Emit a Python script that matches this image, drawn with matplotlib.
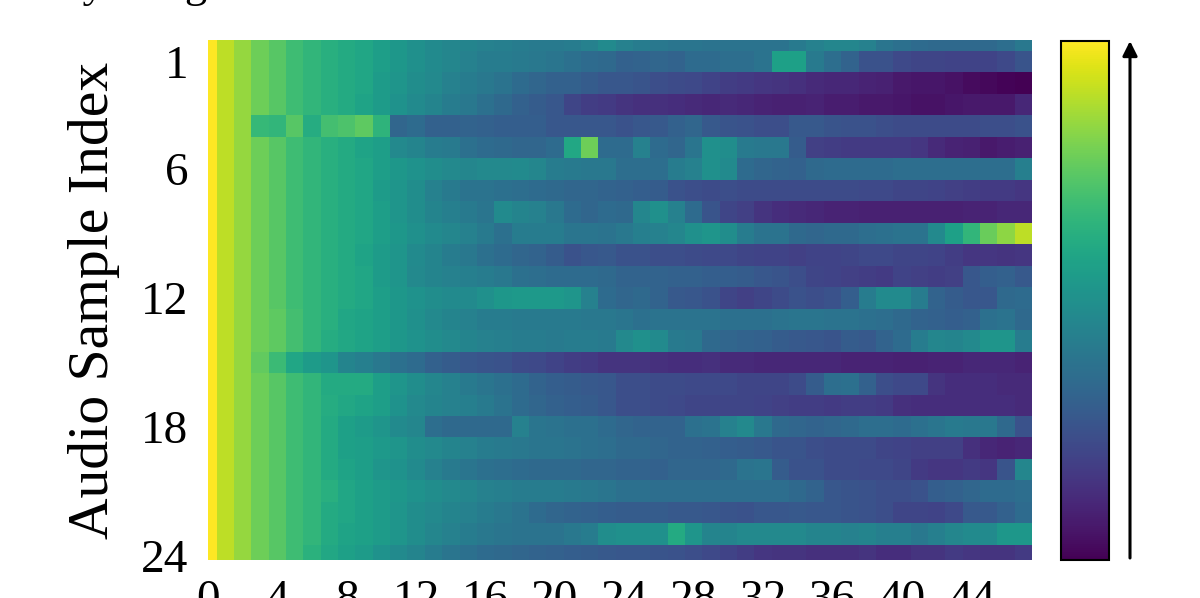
import numpy as np
import matplotlib
matplotlib.use("Agg")
import matplotlib.pyplot as plt

plt.rcParams["font.family"] = ["Liberation Serif", "DejaVu Serif"]

# heatmap rows, on a 0-100 scale
r00 = [100, 90, 84, 78, 74, 69, 66, 63, 61, 59, 56, 53, 50, 48, 46, 45, 44, 43, 42, 41, 41, 42, 44, 48,
       44, 42, 40, 39, 39, 38, 38, 38, 38, 38, 41, 44, 46, 46, 44, 39, 37, 35, 34, 34, 34, 34, 36, 40]
r01 = [100, 90, 84, 78, 74, 69, 66, 63, 61, 59, 56, 53, 50, 48, 46, 44, 42, 42, 41, 40, 39, 37, 35, 34,
       31, 32, 33, 32, 35, 35, 36, 36, 38, 57, 57, 41, 36, 32, 25, 25, 22, 21, 21, 20, 20, 20, 22, 26]
r02 = [100, 90, 84, 78, 74, 69, 66, 63, 61, 59, 55, 52, 49, 47, 44, 42, 40, 38, 35, 33, 31, 31, 29, 27,
       27, 26, 24, 23, 22, 20, 18, 17, 16, 15, 14, 12, 11, 11, 10, 9, 7, 6, 6, 5, 3, 2, 1, 0]
r03 = [100, 90, 84, 78, 74, 69, 66, 63, 61, 58, 55, 51, 48, 45, 42, 40, 37, 34, 31, 29, 27, 21, 18, 17,
       15, 14, 14, 13, 12, 11, 12, 11, 10, 9, 9, 10, 8, 8, 7, 7, 6, 5, 5, 6, 7, 7, 7, 11]
r04 = [100, 90, 84, 67, 66, 74, 62, 70, 72, 75, 65, 33, 35, 31, 31, 32, 31, 30, 30, 30, 27, 27, 27, 27,
       25, 27, 28, 31, 33, 28, 26, 25, 24, 24, 28, 28, 26, 25, 25, 24, 23, 23, 23, 23, 23, 24, 24, 25]
r05 = [100, 90, 84, 78, 74, 69, 66, 63, 61, 58, 56, 47, 45, 42, 41, 37, 35, 34, 33, 33, 35, 60, 78, 35,
       35, 44, 35, 33, 39, 50, 49, 41, 40, 40, 29, 19, 18, 17, 17, 17, 17, 16, 12, 10, 9, 7, 8, 9]
r06 = [100, 90, 84, 78, 74, 69, 66, 63, 61, 59, 56, 53, 51, 49, 47, 46, 47, 47, 48, 46, 42, 41, 40, 40,
       36, 36, 36, 42, 44, 50, 48, 35, 33, 32, 31, 34, 35, 35, 35, 35, 36, 36, 36, 36, 36, 36, 36, 43]
r07 = [100, 90, 84, 78, 74, 69, 66, 63, 61, 59, 55, 52, 49, 44, 41, 38, 38, 37, 36, 35, 34, 33, 33, 32,
       31, 30, 29, 25, 24, 23, 24, 23, 23, 23, 23, 23, 23, 23, 22, 22, 21, 21, 20, 19, 18, 17, 17, 16]
r08 = [100, 90, 84, 78, 74, 69, 66, 63, 61, 59, 56, 52, 49, 45, 43, 41, 39, 48, 45, 44, 40, 35, 33, 35,
       34, 46, 50, 44, 35, 26, 21, 19, 15, 13, 12, 11, 10, 10, 9, 9, 9, 9, 9, 9, 10, 10, 11, 11]
r09 = [100, 90, 84, 78, 74, 69, 66, 63, 61, 59, 56, 53, 50, 48, 46, 44, 41, 37, 42, 42, 42, 39, 39, 38,
       40, 43, 44, 46, 50, 52, 49, 42, 38, 38, 34, 33, 34, 34, 36, 37, 38, 38, 47, 57, 66, 77, 83, 90]
r10 = [100, 90, 84, 78, 74, 69, 66, 63, 61, 58, 55, 52, 48, 45, 42, 40, 37, 35, 33, 32, 29, 25, 27, 28,
       25, 25, 24, 24, 23, 22, 22, 21, 20, 20, 19, 20, 20, 21, 22, 22, 21, 21, 20, 18, 16, 16, 15, 16]
r11 = [100, 90, 84, 78, 74, 69, 66, 63, 61, 59, 55, 52, 47, 45, 44, 43, 42, 40, 37, 36, 35, 35, 35, 34,
       32, 32, 32, 31, 31, 30, 30, 29, 27, 26, 24, 21, 20, 19, 18, 17, 20, 19, 18, 19, 27, 30, 31, 28]
r12 = [100, 90, 84, 78, 74, 69, 66, 63, 61, 59, 56, 53, 51, 49, 48, 48, 50, 53, 54, 54, 54, 52, 44, 35,
       33, 34, 32, 28, 27, 25, 21, 19, 21, 23, 25, 24, 25, 30, 42, 48, 48, 42, 32, 29, 27, 27, 34, 35]
r13 = [100, 90, 84, 78, 75, 70, 66, 63, 59, 58, 56, 53, 50, 47, 45, 44, 42, 42, 41, 41, 41, 41, 40, 40,
       39, 37, 38, 38, 38, 38, 37, 37, 37, 38, 39, 39, 38, 38, 37, 36, 34, 32, 31, 30, 31, 37, 38, 34]
r14 = [100, 90, 84, 78, 75, 70, 66, 62, 60, 58, 56, 53, 51, 49, 47, 45, 44, 43, 42, 42, 41, 42, 42, 41,
       47, 50, 48, 41, 40, 34, 33, 32, 31, 29, 28, 27, 26, 29, 28, 32, 35, 42, 46, 45, 47, 52, 52, 42]
r15 = [100, 90, 84, 76, 68, 59, 55, 52, 45, 43, 40, 37, 35, 31, 29, 27, 26, 25, 23, 22, 20, 18, 17, 15,
       15, 15, 14, 13, 13, 14, 12, 12, 11, 11, 11, 11, 11, 10, 10, 10, 9, 9, 10, 10, 11, 11, 11, 10]
r16 = [100, 90, 84, 78, 74, 69, 66, 61, 61, 61, 56, 52, 49, 46, 44, 41, 39, 37, 35, 32, 30, 29, 28, 27,
       24, 24, 23, 23, 22, 22, 22, 21, 21, 21, 23, 29, 36, 37, 31, 24, 22, 22, 15, 13, 13, 13, 12, 12]
r17 = [100, 90, 84, 78, 74, 69, 66, 62, 60, 58, 56, 51, 47, 45, 44, 43, 41, 38, 35, 33, 31, 30, 29, 27,
       24, 24, 23, 22, 21, 21, 21, 21, 20, 19, 18, 18, 17, 18, 18, 17, 14, 13, 13, 13, 13, 13, 13, 12]
r18 = [100, 90, 84, 78, 74, 69, 66, 61, 57, 55, 52, 48, 46, 36, 34, 34, 34, 34, 44, 39, 38, 37, 37, 35,
       33, 32, 32, 32, 37, 38, 44, 47, 40, 34, 33, 32, 33, 34, 36, 36, 35, 37, 39, 41, 40, 40, 34, 25]
r19 = [100, 90, 84, 78, 74, 69, 66, 61, 57, 56, 54, 52, 49, 47, 45, 44, 42, 41, 40, 39, 39, 38, 37, 36,
       34, 34, 33, 32, 32, 31, 30, 29, 28, 26, 26, 24, 23, 23, 23, 21, 20, 19, 19, 19, 14, 11, 10, 11]
r20 = [100, 90, 84, 78, 74, 69, 66, 61, 58, 56, 52, 51, 48, 44, 41, 39, 37, 36, 35, 34, 34, 34, 33, 33,
       32, 32, 31, 33, 33, 33, 34, 38, 39, 29, 25, 25, 23, 23, 22, 22, 21, 17, 16, 16, 17, 16, 26, 46]
r21 = [100, 90, 84, 78, 74, 69, 66, 63, 59, 57, 55, 53, 51, 49, 47, 46, 44, 43, 42, 42, 42, 41, 40, 39,
       37, 37, 36, 36, 36, 36, 36, 36, 36, 36, 34, 32, 27, 26, 25, 24, 24, 25, 30, 31, 33, 35, 35, 36]
r22 = [100, 90, 84, 78, 74, 69, 66, 61, 59, 57, 55, 52, 49, 47, 45, 44, 42, 40, 38, 35, 33, 32, 31, 30,
       29, 29, 29, 28, 28, 27, 26, 25, 27, 27, 28, 27, 27, 26, 25, 24, 21, 21, 20, 22, 28, 28, 31, 35]
r23 = [100, 90, 84, 78, 74, 69, 66, 61, 58, 57, 55, 52, 49, 46, 44, 42, 40, 39, 38, 38, 38, 40, 42, 49,
       50, 50, 50, 61, 52, 45, 45, 47, 47, 47, 47, 45, 45, 44, 45, 43, 43, 40, 43, 46, 48, 48, 53, 53]
r24 = [100, 90, 84, 78, 74, 69, 64, 60, 57, 55, 51, 48, 45, 42, 39, 37, 35, 34, 33, 32, 31, 30, 29, 28,
       27, 27, 26, 25, 24, 22, 20, 18, 16, 15, 15, 14, 14, 14, 15, 13, 13, 15, 15, 17, 16, 15, 15, 17]

rows = [r00, r01, r02, r03, r04, r05, r06, r07, r08, r09, r10, r11, r12,
        r13, r14, r15, r16, r17, r18, r19, r20, r21, r22, r23, r24]

x_ticks = [0, 4, 8, 12, 16, 20, 24, 28, 32, 36, 40, 44]
y_ticks = [1, 6, 12, 18, 24]

W, H = 1200, 598
fig = plt.figure(figsize=(W / 100, H / 100), dpi=100)


def px_axes(x0, y0, x1, y1):
    return fig.add_axes([x0 / W, 1 - y1 / H, (x1 - x0) / W, (y1 - y0) / H])


ax = px_axes(208, 40, 1032, 560)
im = ax.imshow(np.array(rows), cmap="viridis", vmin=0, vmax=100, aspect="auto",
               interpolation="nearest")
ax.set_xlim(0, 47.5)
ax.set_ylim(24.2, 0)
ax.set_xticks(x_ticks)
ax.set_yticks(y_ticks)
ax.tick_params(length=0, labelsize=34, pad=14)
ax.tick_params(axis="y", pad=14)
for s in ax.spines.values():
    s.set_visible(False)
ax.set_ylabel("Audio Sample Index", fontsize=41.5, labelpad=15)

cax = px_axes(1061, 41, 1109, 560)
cbar = fig.colorbar(im, cax=cax, ticks=[])
cbar.outline.set_linewidth(1.5)
cbar.outline.set_edgecolor("black")

# arrow next to the colour bar
fig.add_artist(matplotlib.patches.FancyArrowPatch(
    (1130 / W, 1 - 558 / H), (1130 / W, 1 - 41 / H), transform=fig.transFigure,
    arrowstyle="-|>", mutation_scale=22, lw=2.2, color="black",
    shrinkA=0, shrinkB=0))

# title line is cut by the top of the picture, only the descenders show
fig.text(53 / W, 1 + 3 / H, "By Length of Audio Frames", fontsize=32,
         va="baseline", ha="left", color="black")

fig.savefig("out.png", dpi=100)
plt.close()
